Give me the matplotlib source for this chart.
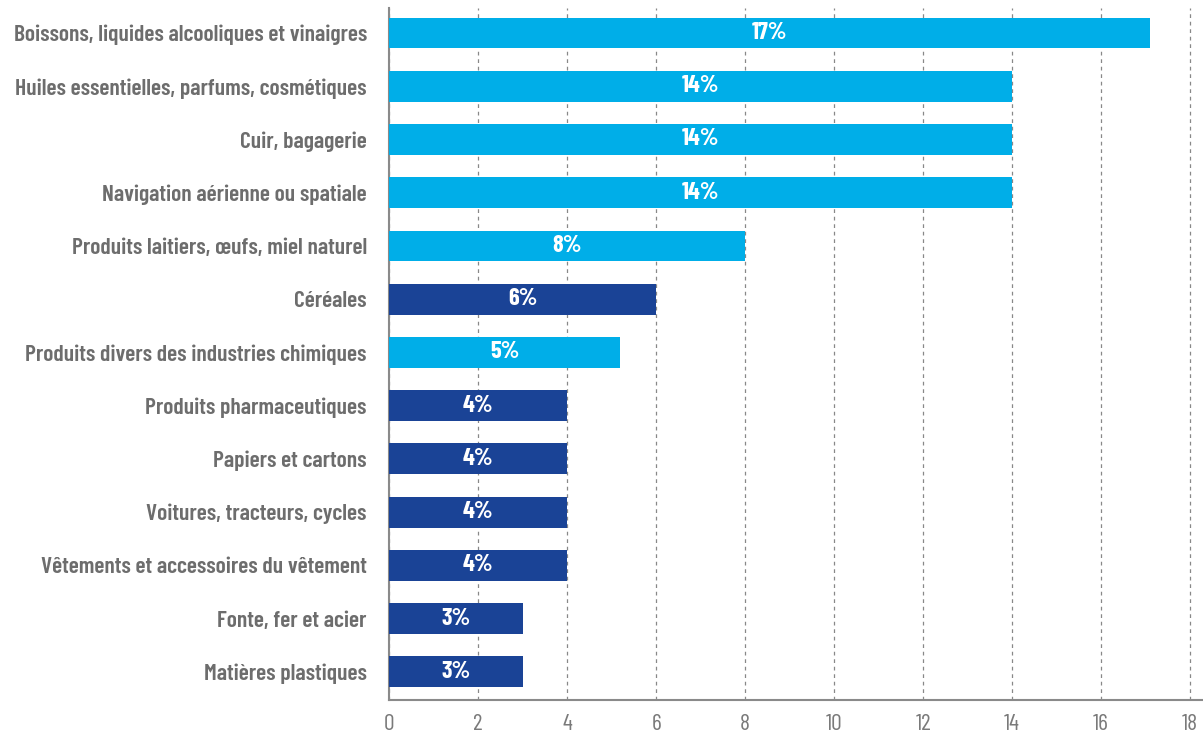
import matplotlib
matplotlib.use("Agg")
import matplotlib.pyplot as plt
from matplotlib import font_manager

categories = [
    "Boissons, liquides alcooliques et vinaigres",
    "Huiles essentielles, parfums, cosmétiques",
    "Cuir, bagagerie",
    "Navigation aérienne ou spatiale",
    "Produits laitiers, œufs, miel naturel",
    "Céréales",
    "Produits divers des industries chimiques",
    "Produits pharmaceutiques",
    "Papiers et cartons",
    "Voitures, tracteurs, cycles",
    "Vêtements et accessoires du vêtement",
    "Fonte, fer et acier",
    "Matières plastiques",
]
values = [17.1, 14.0, 14.0, 14.0, 8.0, 6.0, 5.2, 4.0, 4.0, 4.0, 4.0, 3.0, 3.0]
labels = ["17%", "14%", "14%", "14%", "8%", "6%", "5%", "4%", "4%", "4%", "4%", "3%", "3%"]
group = ["light", "light", "light", "light", "light", "dark", "light",
         "dark", "dark", "dark", "dark", "dark", "dark"]
xticks = [0, 2, 4, 6, 8, 10, 12, 14, 16, 18]

colors = {"light": "#00AEE8", "dark": "#1A4396"}

names = {f.name for f in font_manager.fontManager.ttflist}
fam = "DejaVu Sans"
for cand in ["Barlow Condensed", "Roboto Condensed", "Asap Condensed", "Archivo Narrow"]:
    if cand in names:
        fam = cand
        break

fig = plt.figure(figsize=(12.03, 7.36), dpi=100)
ax = fig.add_axes([0.3234, 0.0489, 0.6766, 0.9402])

n = len(categories)
ypos = list(range(n))
ax.barh(ypos, values, height=0.58, color=[colors[g] for g in group], zorder=3)
for y, v, lab in zip(ypos, values, labels):
    ax.text(v / 2, y, lab, ha="center", va="center", color="white",
            fontsize=17.5, fontweight="bold", family=fam, zorder=4)

ax.set_ylim(n - 0.47, -0.47)
ax.set_xlim(0, 18.29)
ax.set_yticks(ypos)
ax.set_yticklabels(categories, fontsize=17, fontweight="semibold", color="#6d6d6d", family=fam)
ax.set_xticks(xticks)
ax.set_xticklabels([str(t) for t in xticks], fontsize=17, fontweight="normal", color="#7a7a7a", family=fam)
ax.tick_params(axis="y", length=0, pad=16)
ax.tick_params(axis="x", length=0, pad=10)
ax.xaxis.grid(True, linestyle=(0, (3, 3)), color="#888888", linewidth=0.9, zorder=0)
for s in ["top", "right"]:
    ax.spines[s].set_visible(False)
for s in ["left", "bottom"]:
    ax.spines[s].set_color("#8a8a8a")
    ax.spines[s].set_linewidth(1.5)

fig.savefig("out.png", dpi=100)
